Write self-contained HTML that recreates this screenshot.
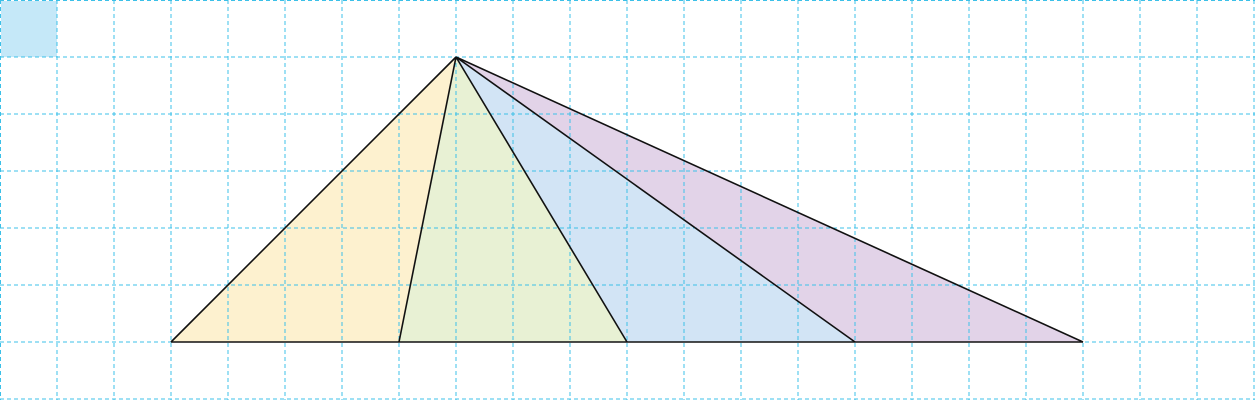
<!DOCTYPE html>
<html><head><meta charset="utf-8"><style>
html,body{margin:0;padding:0;background:#fff;}
svg{display:block;}
</style></head><body>
<svg id="chart" width="1255" height="400" viewBox="0 0 1255 400" xmlns="http://www.w3.org/2000/svg"></svg>
<script>
const baseXs = [3, 7, 11, 15, 19];
const apex = [8, 1];
const baseY = [6];
const fills = ["#fdf1cf", "#e8f1d4", "#d2e4f5", "#e2d3e8"];
const cols = 22, rows = 7;
const step = 57;
const sx = v => v * step;
const sy = v => v * step;
const svg = document.getElementById('chart');
const NS = 'http://www.w3.org/2000/svg';
function mk(tag, attrs){const e=document.createElementNS(NS,tag);for(const k in attrs)e.setAttribute(k,attrs[k]);svg.appendChild(e);return e;}
const cell = mk('rect',{x:1,y:1,width:56,height:56,fill:'#c5e8f8'});


for(let i=0;i<baseXs.length-1;i++){
  const p = mk('polygon',{points:`${sx(apex[0])},${sy(apex[1])} ${sx(baseXs[i])},${sy(baseY[0])} ${sx(baseXs[i+1])},${sy(baseY[0])}`,fill:fills[i],stroke:'none'});
  
  
}
for(let i=0;i<=cols;i++){
  const x = Math.min(Math.max(sx(i),0.5),1254.5);
  const l = mk('line',{x1:x,y1:0,x2:x,y2:400,stroke:'#3cc0e8','stroke-width':1,'stroke-dasharray':'4,3'});
  
  
}
for(let j=0;j<=rows;j++){
  const y = Math.min(Math.max(sy(j),0.5),399.5);
  const l = mk('line',{x1:0,y1:y,x2:1255,y2:y,stroke:'#3cc0e8','stroke-width':1,'stroke-dasharray':'4,3'});
  
  
}
const base = mk('line',{x1:sx(baseXs[0]),y1:sy(baseY[0]),x2:sx(baseXs[baseXs.length-1]),y2:sy(baseY[0]),stroke:'#111','stroke-width':1.6});


baseXs.forEach((bx,i)=>{
  const s = mk('line',{x1:sx(apex[0]),y1:sy(apex[1]),x2:sx(bx),y2:sy(baseY[0]),stroke:'#111','stroke-width':1.6});
  
  
});
</script>
</body></html>
